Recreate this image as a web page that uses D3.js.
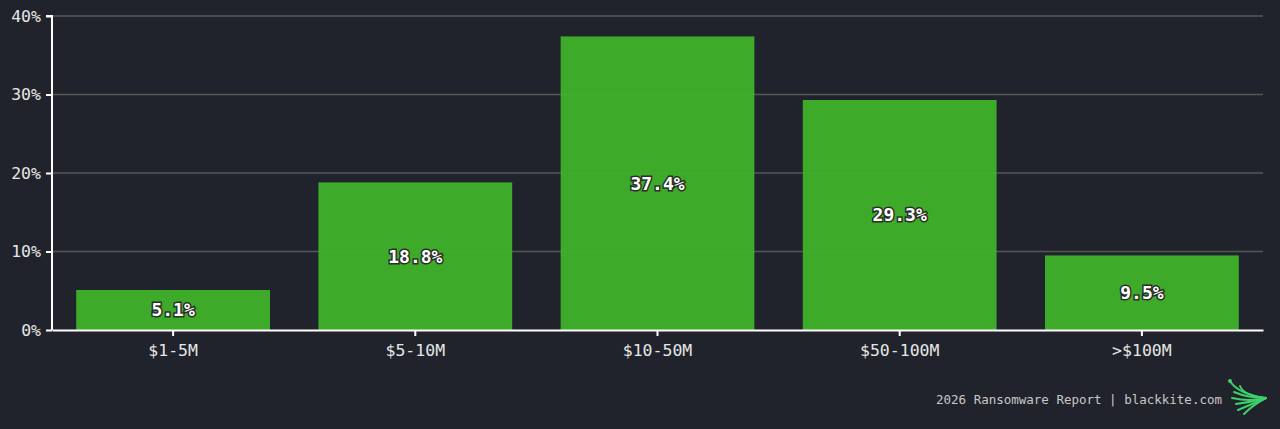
<!DOCTYPE html>
<html>
<head>
<meta charset="utf-8">
<script src="https://cdn.jsdelivr.net/npm/d3@7"></script>
<style>
  html, body { margin: 0; padding: 0; background: #20232b; }
  svg { display: block; }
</style>
</head>
<body>
<script>
var categories = ["$1-5M", "$5-10M", "$10-50M", "$50-100M", ">$100M"];
var shares = [5.1, 18.8, 37.4, 29.3, 9.5];
var yTicks = [0, 10, 20, 30, 40];
var footer = "2026 Ransomware Report | blackkite.com";

var width = 1280, height = 429;
var margin = { top: 16, right: 17, bottom: 99, left: 52 };
var mono = "'DejaVu Sans Mono', 'Liberation Mono', monospace";

var svg = d3.select("body").append("svg")
    .attr("width", width)
    .attr("height", height);

svg.append("rect").attr("width", width).attr("height", height).attr("fill", "#20232b");

var x = d3.scaleBand()
    .domain(categories)
    .range([margin.left, width - margin.right])
    .paddingInner(0.2)
    .paddingOuter(0.1);

var y = d3.scaleLinear()
    .domain([0, 40])
    .range([height - margin.bottom, margin.top]);

// grid
svg.append("g")
    .selectAll("line")
    .data(yTicks.filter(d => d > 0))
    .join("line")
    .attr("x1", margin.left)
    .attr("x2", width - margin.right)
    .attr("y1", d => y(d))
    .attr("y2", d => y(d))
    .attr("stroke", "#535856")
    .attr("stroke-width", 1.5);

// bars
svg.append("g")
    .selectAll("rect")
    .data(shares)
    .join("rect")
    .attr("x", (d, i) => x(categories[i]))
    .attr("width", x.bandwidth())
    .attr("y", d => y(d))
    .attr("height", d => y(0) - y(d))
    .attr("fill", "#40b02a")
    .attr("fill-opacity", 0.96);

// value labels
svg.append("g")
    .selectAll("text")
    .data(shares)
    .join("text")
    .attr("x", (d, i) => x(categories[i]) + x.bandwidth() / 2)
    .attr("y", d => (y(d) + y(0)) / 2)
    .attr("dy", "0.36em")
    .attr("text-anchor", "middle")
    .attr("font-family", mono)
    .attr("font-weight", "bold")
    .attr("font-size", 18)
    .attr("fill", "#ffffff")
    .attr("stroke", "#2a2f2a")
    .attr("stroke-width", 3)
    .attr("paint-order", "stroke")
    .text(d => d.toFixed(1) + "%");

// axes
var yAxis = svg.append("g")
    .attr("transform", `translate(${margin.left},0)`)
    .call(d3.axisLeft(y).tickValues(yTicks).tickFormat(d => d + "%").tickSize(6).tickPadding(5));

var xAxis = svg.append("g")
    .attr("transform", `translate(0,${y(0)})`)
    .call(d3.axisBottom(x).tickSize(6).tickPadding(8).tickSizeOuter(0));

[yAxis, xAxis].forEach(g => {
    g.select(".domain").attr("stroke", "#ffffff").attr("stroke-width", 2);
    g.selectAll(".tick line").attr("stroke", "#ffffff").attr("stroke-width", 2);
    g.selectAll(".tick text")
        .attr("fill", "#e6e6e6")
        .attr("font-family", mono)
        .attr("font-size", 16.5);
});
yAxis.select(".domain").attr("d", `M-6,${y(40)}H0V${y(0)}`);

// footer
svg.append("text")
    .attr("x", 1222)
    .attr("y", 404)
    .attr("text-anchor", "end")
    .attr("font-family", mono)
    .attr("font-size", 12.5)
    .attr("fill", "#c8c8c8")
    .text(footer);

// logo
var logo = svg.append("g")
    .attr("transform", "translate(1228,380)")
    .attr("fill", "none")
    .attr("stroke", "#3ccf6a")
    .attr("stroke-width", 2)
    .attr("stroke-linecap", "round");
var strokes = [
    "M2,1 Q10,14 38,18",
    "M12,6 Q16,16 38,18",
    "M6,12 Q20,18 38,18",
    "M4,18 Q22,22 38,18",
    "M8,24 Q24,22 38,18",
    "M10,30 Q24,24 38,18",
    "M16,34 Q26,24 38,18"
];
logo.selectAll("path").data(strokes).join("path").attr("d", d => d);
logo.append("circle").attr("cx", 2).attr("cy", 1).attr("r", 2).attr("fill", "#3ccf6a").attr("stroke", "none");
</script>
</body>
</html>
